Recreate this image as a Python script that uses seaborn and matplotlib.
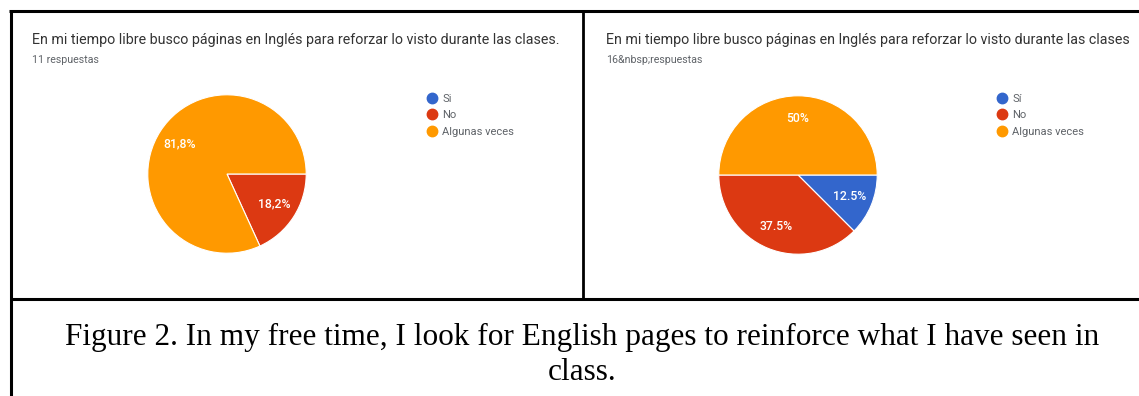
import numpy as np
import matplotlib
matplotlib.use("Agg")
import matplotlib.pyplot as plt
from matplotlib.lines import Line2D
import seaborn as sns

# Survey answers (counts per option)
options_left = ["Si", "No", "Algunas veces"]
options_right = ["Sí", "No", "Algunas veces"]
counts_left = [0, 2, 9]
counts_right = [2, 6, 8]

question_left = "En mi tiempo libre busco páginas en Inglés para reforzar lo visto durante las clases."
question_right = "En mi tiempo libre busco páginas en Inglés para reforzar lo visto durante las clases"
responses_left = "11 respuestas"
responses_right = "16&nbsp;respuestas"
caption_lines = [
    "Figure 2. In my free time, I look for English pages to reinforce what I have seen in",
    "class.",
]

sns.set_theme(style="white")
plt.rcParams["font.family"] = ["Roboto", "DejaVu Sans"]

palette = ["#3366cc", "#dc3912", "#ff9900"]

W, H = 1139, 396
fig = plt.figure(figsize=(W / 100, H / 100), dpi=100)
fig.patch.set_facecolor("white")


def fx(px):
    return px / W


def fy(py):
    return 1 - py / H


def pct_formatter(sep):
    def fmt(p):
        if p <= 0:
            return ""
        if abs(p - round(p)) < 1e-9:
            s = f"{p:.0f}"
        else:
            s = f"{p:.1f}"
        return s.replace(".", sep) + "%"
    return fmt


def draw_panel(cx, cy, r, counts, labels, sep, title, sub, tx, lx):
    ax = fig.add_axes([fx(cx - r), fy(cy + r), (2 * r) / W, (2 * r) / H])
    ax.pie(
        counts,
        colors=palette,
        startangle=0,
        counterclock=False,
        radius=1,
        autopct=pct_formatter(sep),
        pctdistance=0.71,
        wedgeprops=dict(edgecolor="white", linewidth=0.8),
        textprops=dict(color="white", fontsize=8.8, fontweight="medium"),
    )
    ax.set_xlim(-1.01, 1.01)
    ax.set_ylim(-1.01, 1.01)
    ax.set_aspect("equal")
    ax.axis("off")

    fig.text(fx(tx), fy(40), title, fontsize=10.25, color="#333333", va="center", ha="left")
    fig.text(fx(tx), fy(60), sub, fontsize=7.7, color="#5f6368", va="center", ha="left")

    handles = [
        Line2D([], [], marker="o", linestyle="none", markersize=7.5,
               markerfacecolor=c, markeredgecolor=c)
        for c in palette
    ]
    fig.legend(
        handles, labels,
        loc="upper left",
        bbox_to_anchor=(fx(lx), fy(93.5)),
        frameon=False,
        fontsize=8,
        labelcolor="#5f6368",
        handlelength=0.8,
        handletextpad=0.5,
        labelspacing=0.6,
        borderpad=0,
        borderaxespad=0,
    )


draw_panel(227, 174, 80, counts_left, options_left, ",",
           question_left, responses_left, 32, 428)
draw_panel(798, 175, 80, counts_right, options_right, ".",
           question_right, responses_right, 606, 998)

# Table grid around the two charts and the caption
lk = dict(color="black", solid_capstyle="butt", transform=fig.transFigure)
fig.add_artist(Line2D([fx(9), fx(W)], [fy(11), fy(11)], linewidth=2.2, **lk))
fig.add_artist(Line2D([fx(11), fx(11)], [fy(10), fy(H)], linewidth=2.2, **lk))
fig.add_artist(Line2D([fx(583), fx(583)], [fy(11), fy(299)], linewidth=2.0, **lk))
fig.add_artist(Line2D([fx(10), fx(W)], [fy(299), fy(299)], linewidth=2.2, **lk))

for i, line in enumerate(caption_lines):
    fig.text(fx(582), fy(345 + 35 * i), line, fontsize=22.5, color="black",
             family=["Liberation Serif", "DejaVu Serif"], ha="center", va="baseline")

fig.savefig("out.png", dpi=100, facecolor="white")
